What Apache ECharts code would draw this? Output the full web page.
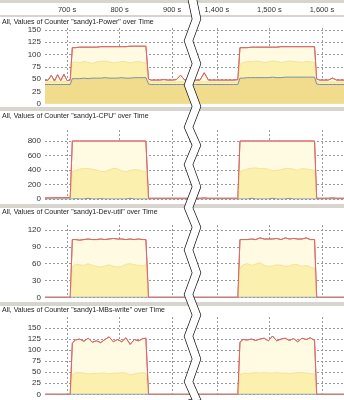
<!DOCTYPE html>
<html><head><meta charset="utf-8">
<script src="https://cdn.jsdelivr.net/npm/echarts@6/dist/echarts.min.js"></script>
<style>html,body{margin:0;padding:0;background:#fff}#c{width:344px;height:400px}</style>
</head><body><div id="c"></div>
<script>
// sample times (s)
const times = [658,664,670,676,682,688,694,700,706,710,
  716,724,732,740,748,756,764,772,780,788,
  796,804,812,820,828,836,844,850,855,860,
  868,876,884,892,900,908,916,924,932,940,
  1350,1360,1368,1376,1384,1392,1400,1408,1416,1424,
  1432,1440,1444,1450,1458,1466,1474,1482,1490,1498,
  1506,1514,1522,1530,1538,1546,1554,1562,1570,1578,
  1586,1590,1596,1604,1612,1620,1628,1636,1642];
const xTicks = [700, 800, 900, 1400, 1500, 1600];

const powerMax = [47,48,58,46,59,47,60,47,48,114,
  114,115,115,115,115,115,116,116,116,116,
  116,116,116,117,117,117,117,117,50,48,
  48,48,49,48,48,49,58,48,48,48,
  48,48,48,63,48,48,48,48,48,48,
  48,49,114,114,114,115,115,115,115,115,
  115,115,116,116,116,116,116,116,116,116,
  116,50,48,48,48,52,48,48,48];
const powerAvg = [44,44,45,44,45,44,45,44,44,84,
  85,83,86,84,82,85,86,87,85,83,
  84,86,85,83,85,86,84,83,45,44,
  44,44,44,44,44,44,45,44,44,44,
  44,44,44,45,44,44,44,44,44,44,
  44,44,80,84,86,85,87,86,84,85,
  87,86,84,85,87,86,85,84,86,85,
  84,45,44,44,44,44,44,44,44];
const powerMin = [39,39,39,39,39,39,39,39,39,51,
  51,51,52,51,52,52,52,53,52,52,
  52,53,52,52,53,53,53,53,40,39,
  39,39,39,39,39,39,39,39,39,39,
  39,39,39,39,39,39,39,39,39,39,
  39,39,52,52,53,53,53,53,53,53,
  54,53,53,54,54,54,54,54,54,54,
  54,40,39,39,39,39,39,39,39];

const cpuMax = [15,15,15,18,18,18,18,18,18,800,
  800,800,800,800,800,800,800,800,800,800,
  800,800,800,800,800,800,800,800,10,10,
  10,10,10,10,10,10,10,10,10,10,
  10,10,10,15,10,10,10,10,10,10,
  10,10,800,800,800,800,800,800,800,800,
  800,800,800,800,800,800,800,800,800,800,
  800,10,10,10,10,15,10,10,10];
const cpuAvg = [5,5,5,5,5,5,5,5,5,378,
  395,414,420,423,410,400,380,377,400,423,
  415,390,377,395,405,400,385,380,5,5,
  5,5,5,5,5,5,5,5,5,5,
  5,5,5,5,5,5,5,5,5,5,
  5,5,377,395,414,425,428,420,423,410,
  390,395,405,420,423,410,395,420,415,405,
  395,5,5,5,5,5,5,5,5];
const cpuMin = [0,0,0,0,0,0,0,0,0,0,
  5,0,0,10,0,0,5,0,0,0,
  0,0,0,10,0,0,0,0,0,0,
  0,0,0,0,0,0,0,0,0,0,
  0,0,0,0,0,0,0,0,0,0,
  0,0,0,0,0,10,0,0,0,0,
  10,0,0,0,10,0,0,0,0,0,
  0,0,0,0,0,0,0,0,0];

const devMax = [0,0,0,0,0,0,0,0,0,103,
  103,102,103,104,103,103,104,103,104,105,
  104,104,103,104,103,104,103,103,0,0,
  0,0,0,0,0,0,0,0,0,0,
  0,0,0,0,0,0,0,0,0,0,
  0,0,103,103,103,104,103,106,104,104,
  104,105,103,106,104,105,104,104,106,103,
  103,0,0,0,0,0,0,0,0];
const devAvg = [0,0,0,0,0,0,0,0,0,55,
  59,58,57,60,57,55,54,56,58,55,
  54,55,59,60,58,57,56,58,0,0,
  0,0,0,0,0,0,0,0,0,0,
  0,0,0,0,0,0,0,0,0,0,
  0,0,52,58,60,57,59,62,57,55,
  56,58,57,55,56,59,58,55,57,54,
  52,0,0,0,0,0,0,0,0];
const devMin = [0,0,0,0,0,0,0,0,0,0,
  0,0,0,0,0,0,0,0,0,0,
  0,0,0,0,0,0,0,0,0,0,
  0,0,0,0,0,0,0,0,0,0,
  0,0,0,0,0,0,0,0,0,0,
  0,0,0,0,0,0,0,0,0,0,
  0,0,0,0,0,0,0,0,0,0,
  0,0,0,0,0,0,0,0,0];

const mbsMax = [0,0,0,0,0,0,0,0,0,116,
  123,125,120,127,118,121,117,124,130,119,
  124,119,128,113,124,121,126,127,0,0,
  0,0,0,0,0,0,0,0,0,0,
  0,0,0,0,0,0,0,0,0,0,
  0,0,118,124,123,125,122,125,127,121,
  132,121,125,127,122,126,119,127,124,128,
  122,0,0,0,0,0,0,0,0];
const mbsAvg = [0,0,0,0,0,0,0,0,0,45,
  49,49,48,46,47,47,48,48,46,48,
  48,49,48,44,46,48,49,48,0,0,
  0,0,0,0,0,0,0,0,0,0,
  0,0,0,0,0,0,0,0,0,0,
  0,0,44,48,47,48,49,48,49,48,
  48,49,48,48,47,48,49,49,48,47,
  46,0,0,0,0,0,0,0,0];
const mbsMin = [0,0,0,0,0,0,0,0,0,0,
  0,0,0,0,0,0,0,0,0,0,
  0,0,0,0,0,0,0,0,0,0,
  0,0,0,0,0,0,0,0,0,0,
  0,0,0,0,0,0,0,0,0,0,
  0,0,0,0,0,0,0,0,0,0,
  0,0,0,0,0,0,0,0,0,0,
  0,0,0,0,0,0,0,0,0];

const titles = [
  'All, Values of Counter "sandy1-Power" over Time',
  'All, Values of Counter "sandy1-CPU" over Time',
  'All, Values of Counter "sandy1-Dev-util" over Time',
  'All, Values of Counter "sandy1-MBs-write" over Time'
];

const FONT = 'Liberation Sans';
// the idle stretch between the two runs is collapsed into a narrow zigzag gap
const timeBreak = [{ start: 930, end: 1360, gap: 15 }];
const fmtTime = v => Number(v).toLocaleString('en-US') + ' s';

// panel geometry: grid top/bottom and y scale
const panels = [
  { top: 28, bottom: 296.3, max: 154, interval: 25, data: [powerMax, powerAvg, powerMin] },
  { top: 130, bottom: 201, max: 952, interval: 200, data: [cpuMax, cpuAvg, cpuMin] },
  { top: 225, bottom: 102.7, max: 129, interval: 30, data: [devMax, devAvg, devMin] },
  { top: 317, bottom: 5.7, max: 175, interval: 25, data: [mbsMax, mbsAvg, mbsMin] }
];
const titleTops = [19, 112.5, 208.5, 306.5];

const RED = '#d86a6a';
const gridLine = { color: '#9a9a9a', type: [2, 2], width: 1 };

const grid = [{ left: 45, right: 0, top: 0, bottom: 0 }];
const xAxis = [{
  type: 'value', gridIndex: 0, position: 'top', min: 658, max: 1642,
  breaks: timeBreak,
  breakArea: {
    show: true,
    itemStyle: { color: '#fff', borderColor: '#111', borderWidth: 1.4, borderType: 'solid', opacity: 1 },
    zigzagAmplitude: 4, zigzagMinSpan: 18, zigzagMaxSpan: 23, zigzagZ: 100, expandOnClick: false
  },
  axisLine: { show: false }, axisTick: { show: false, customValues: xTicks },
  splitLine: { show: false },
  axisLabel: { inside: true, margin: 6, customValues: xTicks, formatter: fmtTime,
    fontFamily: FONT, fontSize: 7.5, color: '#333' }
}];
const yAxis = [{ type: 'value', gridIndex: 0, show: false, min: 0, max: 1 }];
const series = [];

panels.forEach((p, i) => {
  const g = i + 1;
  grid.push({ left: 45, right: 0, top: p.top, bottom: p.bottom });
  xAxis.push({
    type: 'value', gridIndex: g, min: 658, max: 1642, breaks: timeBreak,
    breakArea: { show: false },
    axisLine: { show: false }, axisLabel: { show: false },
    axisTick: { show: false, customValues: xTicks },
    splitLine: { show: true, lineStyle: gridLine }
  });
  yAxis.push({
    type: 'value', gridIndex: g, min: 0, max: p.max, interval: p.interval,
    axisLine: { show: false }, axisTick: { show: false },
    axisLabel: { margin: 4, showMaxLabel: false, fontFamily: FONT, fontSize: 8, color: '#333' },
    splitLine: { show: true, showMaxLine: false, lineStyle: gridLine }
  });
  const pts = arr => times.map((t, k) => [t, arr[k]]);
  const [mx, av, mn] = p.data;
  const base = { type: 'line', xAxisIndex: g, yAxisIndex: g, symbol: 'none', silent: true, animation: false };
  series.push(Object.assign({}, base, { name: 'max', data: pts(mx),
    lineStyle: { color: RED, width: 1 }, areaStyle: { color: '#fffbe3', opacity: 1 } }));
  series.push(Object.assign({}, base, { name: 'avg', data: pts(av),
    lineStyle: { color: '#f3e29c', width: 1 }, areaStyle: { color: '#fcf0ae', opacity: 1 } }));
  series.push(Object.assign({}, base, { name: 'min', data: pts(mn),
    lineStyle: { color: '#7890a8', width: 1 }, areaStyle: { color: '#f1dc8d', opacity: 1 } }));
  series.push(Object.assign({}, base, { name: 'max-line', data: pts(mx),
    lineStyle: { color: RED, width: 1 } }));
});

// separator bars between the header and the panels
const bars = [[0, 3], [15, 2], [107, 4], [204, 4], [302, 4]];
const graphic = bars.map(([y, h]) => ({
  type: 'rect', left: 0, top: y, z: 50, silent: true,
  shape: { width: 344, height: h }, style: { fill: '#d8d5cf' }
}));

const chart = echarts.init(document.getElementById('c'), null, { renderer: 'canvas' });
chart.setOption({
  animation: false,
  backgroundColor: '#fff',
  title: titles.map((t, i) => ({
    text: t, left: 2, top: titleTops[i], padding: 0,
    textStyle: { fontFamily: FONT, fontSize: 7, fontWeight: 'normal', color: '#222' }
  })),
  grid, xAxis, yAxis, series, graphic
});
</script></body></html>
